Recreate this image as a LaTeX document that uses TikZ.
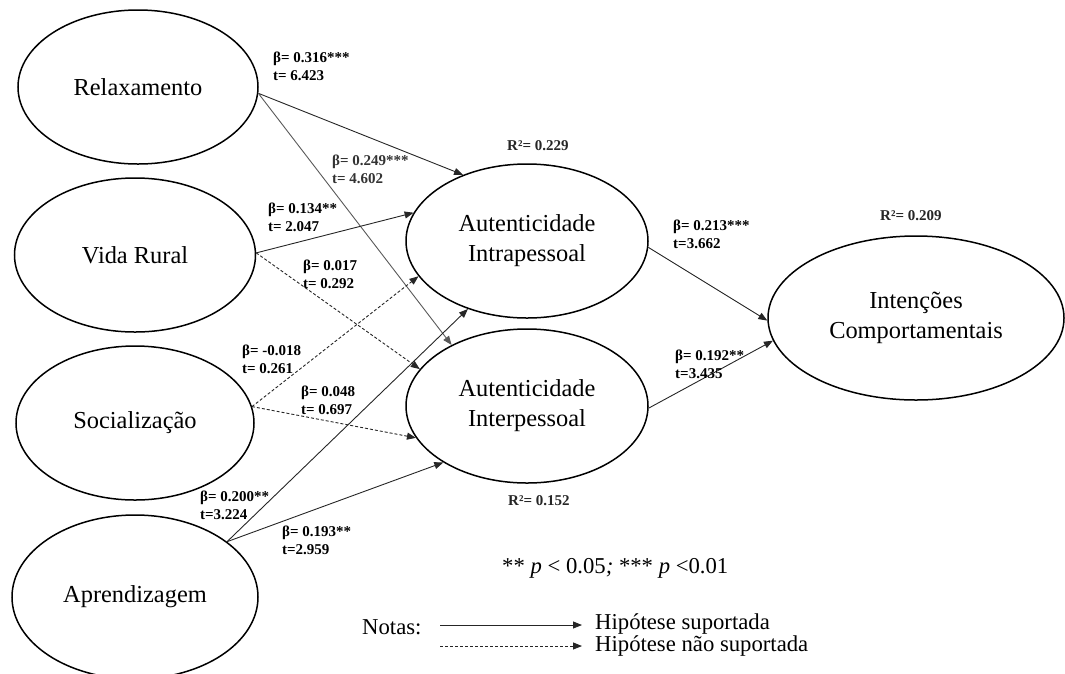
\documentclass[tikz,border=0pt]{standalone}
\usepackage{fontspec}
\setmainfont{Liberation Serif}
\usetikzlibrary{shapes.geometric,arrows.meta}
\begin{document}
\begin{tikzpicture}[x=1pt,y=-1pt,
  lat/.style={ellipse,draw,line width=1.5pt,inner sep=0pt,align=center,
    font=\fontsize{24.4}{30}\selectfont},
  hyp/.style={line width=0.9pt,draw=black!85,-{Triangle[length=9pt,width=7pt]}},
  hypns/.style={hyp,dash pattern=on 3pt off 2pt},
  coef/.style={font=\bfseries\fontsize{15}{18}\selectfont,align=left,anchor=west,inner sep=0pt},
  rsq/.style={font=\bfseries\fontsize{15}{18}\selectfont,text=black!85,anchor=west,inner sep=0pt},
  leg/.style={font=\fontsize{22.7}{19}\selectfont,anchor=base west,inner sep=0pt},
]
\useasboundingbox (0,0) rectangle (1065,673);
\clip (0,0) rectangle (1065,673);

% latent variables
\node[lat,minimum width=240pt,minimum height=154pt] (relax) at (138,87) {Relaxamento};
\node[lat,minimum width=241pt,minimum height=154pt] (vida) at (135,255) {Vida Rural};
\node[lat,minimum width=238pt,minimum height=154pt] (soc) at (135,423) {Socialização};
\node[lat,minimum width=246pt,minimum height=164pt] (apr) at (135,597) {Aprendizagem};
\node[lat,minimum width=242pt,minimum height=154pt] (intra) at (527,241) {Autenticidade\\Intrapessoal};
\node[lat,minimum width=242pt,minimum height=154pt] (inter) at (527,406) {Autenticidade\\Interpessoal};
\node[lat,minimum width=296pt,minimum height=164pt] (int) at (916,318) {Intenções\\Comportamentais};

% paths
\draw[hyp] (relax.-3) -- (intra.134.6);
\draw[hyp,draw=black!65] (relax.-3) -- (inter.141);
\draw[hyp] (vida.1) -- (intra.166);
\draw[hypns] (vida.1) -- (inter.161);
\draw[hypns] (soc.8) -- (intra.198);
\draw[hypns] (soc.8) -- (inter.196);
\draw[hyp] (apr.31) -- (intra.229);
\draw[hyp] (apr.31) -- (inter.214);
\draw[hyp] (intra.-3) -- (int.181);
\draw[hyp] (inter.-1.5) -- (int.189);

% coefficients
\node[coef] (c1) at (273,66) {β= 0.316***\\t= 6.423};
\node[coef,text=black!80] (c2) at (332,169) {β= 0.249***\\t= 4.602};
\node[coef] (c3) at (268,217) {β= 0.134**\\t= 2.047};
\node[coef] (c4) at (303,274) {β= 0.017\\t= 0.292};
\node[coef] (c5) at (242,359) {β= -0.018\\t= 0.261};
\node[coef] (c6) at (301,400) {β= 0.048\\t= 0.697};
\node[coef] (c7) at (200,505) {β= 0.200**\\t=3.224};
\node[coef] (c8) at (282,540) {β= 0.193**\\t=2.959};
\node[coef] (c9) at (673,234) {β= 0.213***\\t=3.662};
\node[coef] (c10) at (675,364) {β= 0.192**\\t=3.435};

% R squared
\node[rsq] (r1) at (507,146) {R²= 0.229};
\node[rsq] (r2) at (880,216) {R²= 0.209};
\node[rsq] (r3) at (508,501) {R²= 0.152};

% notes
\node[leg] (pv) at (502,573) {** \textit{p} < 0.05\textit{;} *** \textit{p} <0.01};
\node[leg] (notas) at (362,634) {Notas:};
\coordinate (la1) at (440,625);
\coordinate (lb1) at (582,625);
\coordinate (la2) at (440,646);
\coordinate (lb2) at (582,646);
\draw[hyp] (la1) -- (lb1);
\draw[hypns] (la2) -- (lb2);
\node[leg,align=left] (h) at (595,651) {Hipótese suportada\\Hipótese não suportada};
\end{tikzpicture}
\end{document}
